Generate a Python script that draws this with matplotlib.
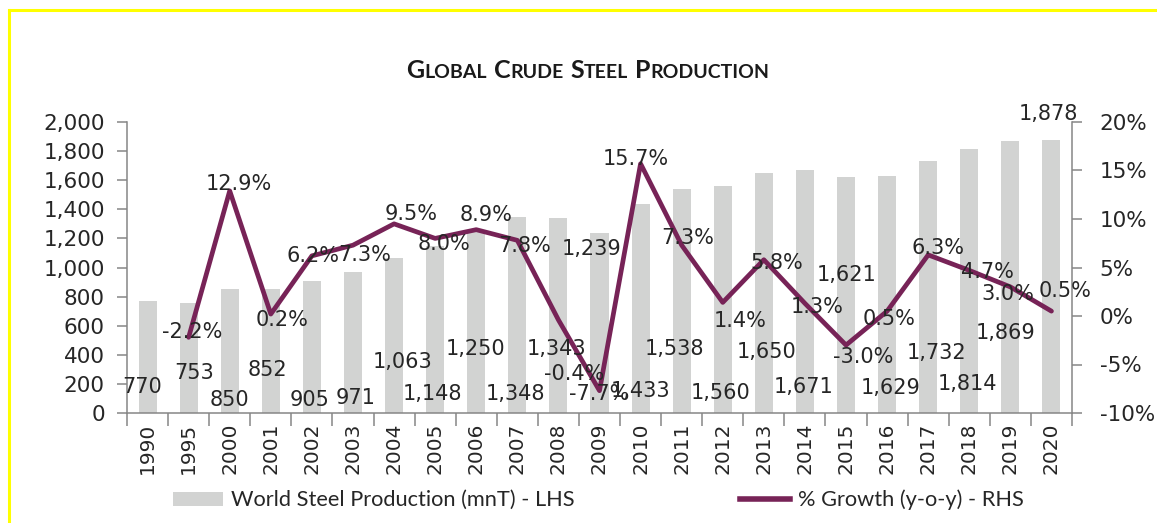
import matplotlib
matplotlib.use('Agg')
import matplotlib.pyplot as plt
import numpy as np
from matplotlib.lines import Line2D
from matplotlib.patches import Patch
from matplotlib.offsetbox import TextArea, HPacker, AnchoredOffsetbox
from matplotlib.ticker import FuncFormatter

# Data
years = ['1990', '1995', '2000', '2001', '2002', '2003', '2004', '2005',
         '2006', '2007', '2008', '2009', '2010', '2011', '2012', '2013',
         '2014', '2015', '2016', '2017', '2018', '2019', '2020']
production = [770, 753, 850, 852, 905, 971, 1063, 1148, 1250, 1348, 1343,
              1239, 1433, 1538, 1560, 1650, 1671, 1621, 1629, 1732, 1814,
              1869, 1878]
growth = [np.nan, -2.2, 12.9, 0.2, 6.2, 7.3, 9.5, 8.0, 8.9, 7.8, -0.4,
          -7.7, 15.7, 7.3, 1.4, 5.8, 1.3, -3.0, 0.5, 6.3, 4.7, 3.0, 0.5]

# Where the (hand-moved) data labels sit, in pixels from their mark.
bar_label_offsets = [(-5, -86), (5, -70), (0, -111), (-3, -81), (-2, -119),
                     (3, -126), (8, -104), (-3, -148), (-1, -118), (-2, -177),
                     (-2, -131), (-8, -16), (0, -187), (-7, -160), (-2, -207),
                     (3, -179), (-1, -217), (1, -98), (4, -212), (8, -192),
                     (-2, -235), (-5, -192), (-3, 26)]
growth_label_offsets = [None, (4, 5), (9, 7), (11, -6), (1, 0), (12, -10),
                        (17, 10), (9, -6), (10, 15), (7, -6), (16, -54),
                        (0, -3), (-5, 5), (6, 7), (17, -19), (13, -3),
                        (12, -4), (17, -12), (2, -8), (10, 7), (18, -2),
                        (-3, -7), (14, 20)]

bar_color = '#D2D3D2'
line_color = '#772357'
axis_color = '#868686'
text_color = '#262626'

fig = plt.figure(figsize=(11.57, 5.23), dpi=100)
W, H = 1157, 523
ax = fig.add_axes([127 / W, 110 / H, 945 / W, 291 / H])

x = np.arange(len(years))
ax.bar(x, production, width=0.44, color=bar_color, zorder=1)
ax.set_xlim(-0.5, len(years) - 0.5)
ax.set_ylim(0, 2000)
ax.set_yticks(np.arange(0, 2001, 200))
ax.yaxis.set_major_formatter(FuncFormatter(lambda v, p: f'{v:,.0f}'))

# category boundaries get the tick marks, centres get the year labels
ax.set_xticks(np.arange(-0.5, len(years)), labels=[])
ax.set_xticks(x, labels=years, minor=True)
ax.tick_params(axis='x', which='major', length=9, width=1.1, color=axis_color)
ax.tick_params(axis='x', which='minor', length=0, pad=7, labelrotation=90,
               labelsize=14.5, labelcolor=text_color)
ax.tick_params(axis='y', length=7, width=1.1, color=axis_color, pad=9,
               labelsize=15.5, labelcolor=text_color)

ax2 = ax.twinx()
ax2.plot(x, growth, color=line_color, lw=3.4, solid_joinstyle='round',
         solid_capstyle='round')
ax2.set_ylim(-10, 20)
ax2.set_yticks(range(-10, 21, 5))
ax2.yaxis.set_major_formatter(FuncFormatter(lambda v, p: f'{v:.0f}%'))
ax2.tick_params(axis='y', length=7, width=1.1, color=axis_color, pad=13,
                labelsize=15.5, labelcolor=text_color)

for a in (ax, ax2):
    a.spines['top'].set_visible(False)
    for s in a.spines.values():
        s.set_color(axis_color)
        s.set_linewidth(1.1)
ax.spines['right'].set_visible(False)
ax2.spines['left'].set_visible(False)
ax2.spines['bottom'].set_visible(False)

# data labels
for i, v in enumerate(production):
    ax2.annotate(f'{v:,}', xy=(i, v), xycoords=ax.transData,
                 xytext=bar_label_offsets[i], textcoords='offset pixels',
                 ha='center', va='center', fontsize=15, color=text_color)
for i, g in enumerate(growth):
    if np.isnan(g):
        continue
    ax2.annotate(f'{g:.1f}%', xy=(i, g), xytext=growth_label_offsets[i],
                 textcoords='offset pixels', ha='center', va='center',
                 fontsize=15, color=text_color)

# Title in small caps
title_font = ['Lato', 'DejaVu Sans']
words = []
for word in 'GLOBAL CRUDE STEEL PRODUCTION'.split():
    big = TextArea(word[0], textprops=dict(fontsize=18, fontweight='bold',
                                           family=title_font, color='#1a1a1a'))
    small = TextArea(word[1:], textprops=dict(fontsize=14, fontweight='bold',
                                              family=title_font, color='#1a1a1a'))
    words.append(HPacker(children=[big, small], align='baseline', pad=0, sep=0))
title = HPacker(children=words, align='baseline', pad=0, sep=5)
fig.add_artist(AnchoredOffsetbox(loc='center', child=title, frameon=False,
                                 pad=0, borderpad=0,
                                 bbox_to_anchor=(588 / W, 1 - 70 / H),
                                 bbox_transform=fig.transFigure))

# Legend
handles = [Patch(facecolor=bar_color, edgecolor='none'),
           Line2D([], [], color=line_color, lw=4)]
labels = ['World Steel Production (mnT) - LHS', '% Growth (y-o-y) - RHS']
fig.legend(handles, labels, ncol=2, loc='center left',
           bbox_to_anchor=(173 / W, 1 - 500 / H), frameon=False,
           prop=dict(family=title_font, size=15.7), labelcolor=text_color,
           handlelength=2.3, handleheight=0.6, handletextpad=0.35,
           columnspacing=7.6, borderpad=0, borderaxespad=0)

# yellow frame edges of the original screenshot
fig.add_artist(Line2D([9 / W, 9 / W], [0, 1 - 10 / H], transform=fig.transFigure,
                      color='#FFFF00', lw=2.2))
fig.add_artist(Line2D([9 / W, 1], [1 - 10 / H, 1 - 10 / H],
                      transform=fig.transFigure, color='#FFFF00', lw=2.2))

fig.savefig('out.png', dpi=100)
